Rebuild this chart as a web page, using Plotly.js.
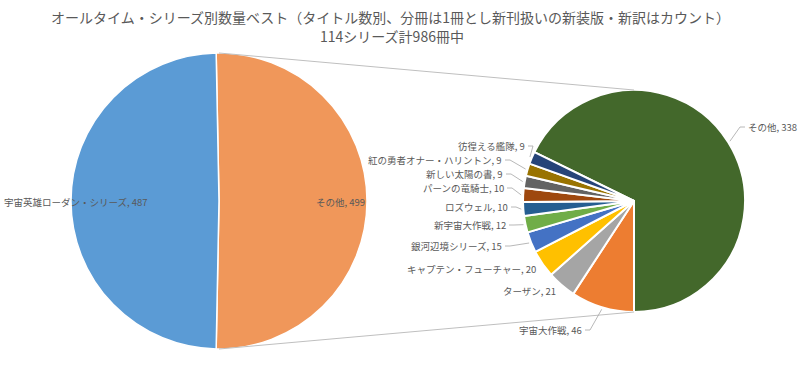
<!DOCTYPE html>
<html><head><meta charset="utf-8">
<script src="https://cdn.plot.ly/plotly-3.0.1.min.js"></script>
<style>html,body{margin:0;padding:0;background:#fff}#chart{width:800px;height:376px}</style>
</head><body><div id="chart"></div>
<script>
// ---- data ----
const titleLines = ['オールタイム・シリーズ別数量ベスト（タイトル数別、分冊は1冊とし新刊扱いの新装版・新訳はカウント）', '114シリーズ計986冊中'];
const primaryLabels = ['その他', '宇宙英雄ローダン・シリーズ'];
const primaryValues = [499, 487];
const secondaryLabels = ['その他', '宇宙大作戦', 'ターザン', 'キャプテン・フューチャー', '銀河辺境シリーズ', '新宇宙大作戦', 'ロズウェル', 'パーンの竜騎士', '新しい太陽の書', '紅の勇者オナー・ハリントン', '彷徨える艦隊'];
const secondaryValues = [338, 46, 21, 20, 15, 12, 10, 10, 9, 9, 9];

// ---- styles / layout ----
const primaryColors = ['#F0975A', '#5B9BD5'];
const secondaryColors = ['#43682B', '#ED7D31', '#A5A5A5', '#FFC000', '#4472C4', '#70AD47', '#255E91', '#9E480E', '#636363', '#997300', '#264478'];
const W = 800, H = 376;
const P1 = {cx: 219, cy: 201, r: 148};
const P2 = {cx: 634, cy: 201, r: 111};
const FONT = '"Noto Sans CJK JP", "Noto Sans", sans-serif';
const TXT = '#595959';
// label anchor positions (pixels) for the data labels
const primaryLabelPos = [[340, 202, 'center'], [3, 202, 'left']];
const secondaryLabelPos = [[747, 127, 'left'], [583, 330, 'right'], [557, 291, 'right'], [537, 269, 'right'], [503, 246, 'right'], [507, 225, 'right'], [509, 207, 'right'], [505, 188, 'right'], [504, 174, 'right'], [503, 160, 'right'], [526, 146, 'right']];

const px = x => x / W, py = y => 1 - y / H;
function dom(P) { return {x: [px(P.cx - P.r), px(P.cx + P.r)], y: [py(P.cy + P.r), py(P.cy - P.r)]}; }
const sum = a => a.reduce((s, v) => s + v, 0);

const pTot = sum(primaryValues);
const primaryRotation = 90 - (primaryValues[0] / pTot * 360) / 2;
const sTot = sum(secondaryValues);
const secondaryRotation = 180 - secondaryValues[0] / sTot * 360;

const traces = [
  {type: 'pie', labels: primaryLabels, values: primaryValues, sort: false, direction: 'clockwise',
   rotation: primaryRotation, domain: dom(P1), textinfo: 'none', hoverinfo: 'label+value',
   marker: {colors: primaryColors, line: {color: '#fff', width: 1.5}}, showlegend: false},
  {type: 'pie', labels: secondaryLabels, values: secondaryValues, sort: false, direction: 'clockwise',
   rotation: secondaryRotation, domain: dom(P2), textinfo: 'none', hoverinfo: 'label+value',
   marker: {colors: secondaryColors, line: {color: '#fff', width: 2}}, showlegend: false}
];

const annotations = [];
const shapes = [];
// connector lines between pies
shapes.push({type: 'line', xref: 'paper', yref: 'paper', x0: px(P1.cx), y0: py(P1.cy - P1.r), x1: px(P2.cx), y1: py(P2.cy - P2.r), line: {color: '#BFBFBF', width: 1}});
shapes.push({type: 'line', xref: 'paper', yref: 'paper', x0: px(P1.cx), y0: py(P1.cy + P1.r), x1: px(P2.cx), y1: py(P2.cy + P2.r), line: {color: '#BFBFBF', width: 1}});

// title as two centred text lines
annotations.push({xref: 'paper', yref: 'paper', x: px(390), y: py(17), xanchor: 'center', yanchor: 'middle', showarrow: false,
  text: titleLines[0], font: {family: FONT, size: 14, color: TXT}, borderpad: 0});
annotations.push({xref: 'paper', yref: 'paper', x: px(392), y: py(36), xanchor: 'center', yanchor: 'middle', showarrow: false,
  text: titleLines[1], font: {family: FONT, size: 14, color: TXT}, borderpad: 0});

primaryLabels.forEach((l, i) => {
  const [x, y, a] = primaryLabelPos[i];
  annotations.push({xref: 'paper', yref: 'paper', x: px(x), y: py(y), xanchor: a, yanchor: 'middle', showarrow: false, borderpad: 0,
    text: l + ', ' + primaryValues[i], font: {family: FONT, size: 9.5, color: TXT}});
});

let ang = secondaryRotation;
secondaryLabels.forEach((l, i) => {
  const span = secondaryValues[i] / sTot * 360;
  const mid = (ang + span / 2) * Math.PI / 180;
  ang += span;
  const ex = P2.cx + (P2.r + 2) * Math.sin(mid), ey = P2.cy - (P2.r + 2) * Math.cos(mid);
  const [x, y, a] = secondaryLabelPos[i];
  annotations.push({xref: 'paper', yref: 'paper', x: px(x), y: py(y), xanchor: a, yanchor: 'middle', showarrow: false, borderpad: 0,
    text: l + ', ' + secondaryValues[i], font: {family: FONT, size: 9.5, color: TXT}});
  const sx = a === 'right' ? x + 2 : x - 2;
  if (Math.hypot(ex - sx, ey - y) > 10) {
    const hx = a === 'right' ? sx + 5 : sx - 5;
    shapes.push({type: 'path', xref: 'paper', yref: 'paper',
      path: `M ${px(sx)},${py(y)} L ${px(hx)},${py(y)} L ${px(ex)},${py(ey)}`,
      line: {color: '#A6A6A6', width: 0.8}});
  }
});

const layout = {
  width: W, height: H, margin: {l: 0, r: 0, t: 0, b: 0},
  paper_bgcolor: '#fff', plot_bgcolor: '#fff',
  annotations, shapes, showlegend: false
};
Plotly.newPlot('chart', traces, layout, {displayModeBar: false, staticPlot: true});
</script></body></html>
